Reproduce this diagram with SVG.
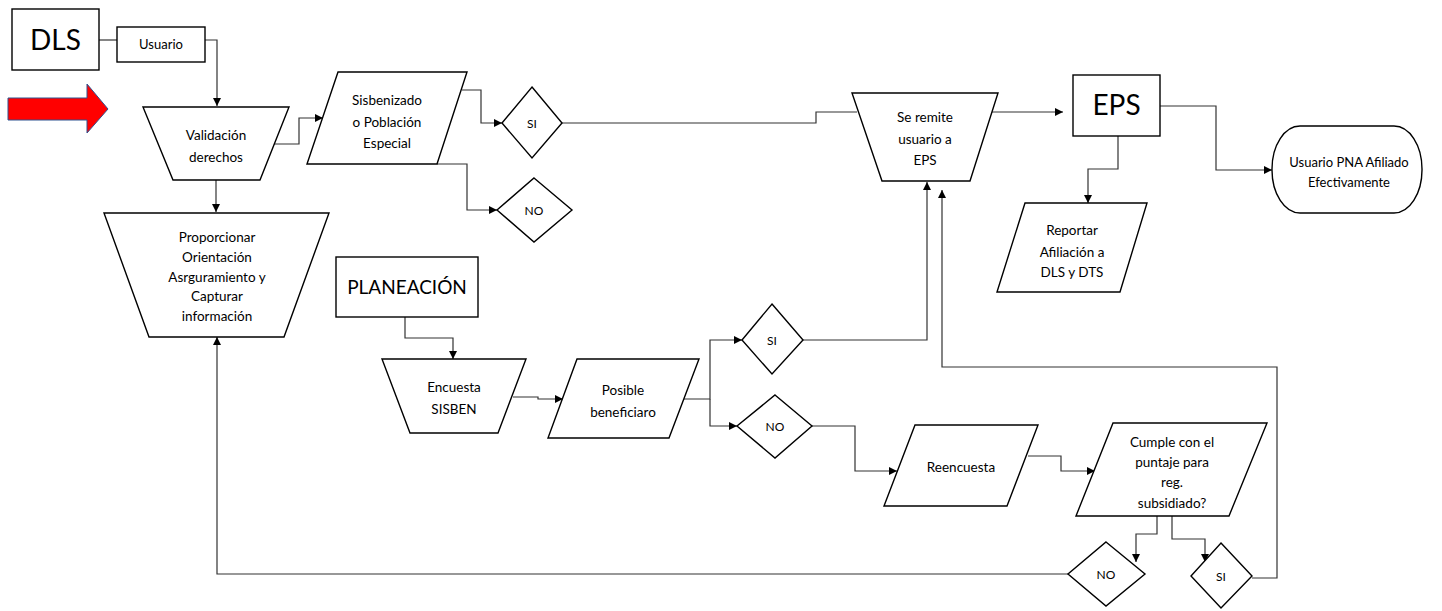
<svg xmlns="http://www.w3.org/2000/svg" width="1442" height="611" viewBox="0 0 1442 611">
<style>
.s{fill:#fff;stroke:#000;stroke-width:1.4}
.c{fill:none;stroke:#333;stroke-width:1.2}
.t{font-family:Lato,"Open Sans",sans-serif;font-size:13.5px;fill:#000;text-anchor:middle}
.b{font-family:Lato,"Open Sans",sans-serif;font-size:28px;fill:#000;text-anchor:middle}
</style>
<defs>
<marker id="a" viewBox="0 0 10 10" refX="10" refY="5" markerWidth="8" markerHeight="8" markerUnits="userSpaceOnUse" orient="auto"><path d="M0,0L10,5L0,10z" fill="#000"/></marker>
</defs>
<rect width="1442" height="611" fill="#fff"/>
<g id="connectors" class="c">
<path d="M99,40H117"/>
<path d="M205,40H217V106" marker-end="url(#a)"/>
<path d="M216,180V212" marker-end="url(#a)"/>
<path d="M273,144H299V118H323" marker-end="url(#a)"/>
<path d="M462,90H481V123H502" marker-end="url(#a)"/>
<path d="M562,123H816V112H857"/>
<path d="M437,164H467V210H497" marker-end="url(#a)"/>
<path d="M992,112H1063" marker-end="url(#a)"/>
<path d="M1160,106H1216V170H1272" marker-end="url(#a)"/>
<path d="M1118,136V169H1088V203" marker-end="url(#a)"/>
<path d="M405,317V338H453V359" marker-end="url(#a)"/>
<path d="M513,397H538V399H563" marker-end="url(#a)"/>
<path d="M684,399H710V340H742" marker-end="url(#a)"/>
<path d="M710,399V426H737" marker-end="url(#a)"/>
<path d="M803,340H927V182" marker-end="url(#a)"/>
<path d="M812,426H855V471H897" marker-end="url(#a)"/>
<path d="M1028,456H1061V471H1095" marker-end="url(#a)"/>
<path d="M1157,516V534H1136V562" marker-end="url(#a)"/>
<path d="M1172,516V539H1205V562" marker-end="url(#a)"/>
<path d="M1068,574H217V337" marker-end="url(#a)"/>
<path d="M1252,578H1277V367H942V190" marker-end="url(#a)"/>
</g>
<g id="red-arrow"><polygon points="8,98 87,98 87,84 108,109 87,133 87,120 8,120" fill="#f00" stroke="#2f528f" stroke-width="1"/></g>
<g id="dls"><rect class="s" x="12" y="9" width="87" height="61"/><text class="b" x="55.5" y="50">DLS</text></g>
<g id="usuario"><rect class="s" x="117" y="27" width="88" height="35"/><text class="t" x="161" y="49" style="font-size:13px">Usuario</text></g>
<g id="validacion"><polygon class="s" points="143,107 289,107 260,180 173,180"/><text class="t" x="216" y="140">Validación</text><text class="t" x="216" y="162">derechos</text></g>
<g id="sisbenizado"><polygon class="s" points="338,72 467,72 437,164 307,164"/><text class="t" x="387" y="105">Sisbenizado</text><text class="t" x="387" y="127">o Población</text><text class="t" x="387" y="148">Especial</text></g>
<g id="si1"><polygon class="s" points="532,87 562,123 532,158 502,123"/><text class="t" x="532" y="128" style="font-size:12px">SI</text></g>
<g id="no1"><polygon class="s" points="534,178 572,210 534,242 497,210"/><text class="t" x="534" y="215" style="font-size:12px">NO</text></g>
<g id="se-remite"><polygon class="s" points="852,93 998,93 970,181 882,181"/><text class="t" x="925" y="122">Se remite</text><text class="t" x="925" y="144">usuario a</text><text class="t" x="925" y="165">EPS</text></g>
<g id="eps"><rect class="s" x="1073" y="75" width="87" height="61"/><text class="b" x="1116.5" y="115">EPS</text></g>
<g id="usuario-pna"><rect class="s" x="1272" y="126" width="150" height="87" rx="28" ry="43"/><text class="t" x="1349" y="167" style="font-size:13px">Usuario PNA Afiliado</text><text class="t" x="1349" y="187" style="font-size:13px">Efectivamente</text></g>
<g id="reportar"><polygon class="s" points="1025,203 1147,203 1120,292 997,292"/><text class="t" x="1072" y="235">Reportar</text><text class="t" x="1072" y="257">Afiliación a</text><text class="t" x="1072" y="277">DLS y DTS</text></g>
<g id="proporcionar"><polygon class="s" points="104,213 329,213 284,337 149,337"/><text class="t" x="217" y="242">Proporcionar</text><text class="t" x="217" y="262">Orientación</text><text class="t" x="217" y="282">Asrguramiento y</text><text class="t" x="217" y="301">Capturar</text><text class="t" x="217" y="321">información</text></g>
<g id="planeacion"><rect class="s" x="336" y="257" width="142" height="60"/><text class="b" x="407" y="294" style="font-size:19px">PLANEACIÓN</text></g>
<g id="encuesta"><polygon class="s" points="382,359 526,359 498,433 410,433"/><text class="t" x="454" y="392">Encuesta</text><text class="t" x="454" y="414">SISBEN</text></g>
<g id="posible"><polygon class="s" points="577,359 699,359 669,438 548,438"/><text class="t" x="623" y="395">Posible</text><text class="t" x="623" y="417">beneficiaro</text></g>
<g id="si2"><polygon class="s" points="772,304 803,340 772,374 742,340"/><text class="t" x="772" y="345" style="font-size:12px">SI</text></g>
<g id="no2"><polygon class="s" points="775,395 812,426 775,458 737,426"/><text class="t" x="775" y="431" style="font-size:12px">NO</text></g>
<g id="reencuesta"><polygon class="s" points="915,425 1038,425 1007,506 884,506"/><text class="t" x="961" y="472">Reencuesta</text></g>
<g id="cumple"><polygon class="s" points="1113,423 1267,423 1229,516 1076,516"/><text class="t" x="1172" y="447">Cumple con el</text><text class="t" x="1172" y="467">puntaje para</text><text class="t" x="1172" y="487">reg.</text><text class="t" x="1172" y="508">subsidiado?</text></g>
<g id="no3"><polygon class="s" points="1106,542 1145,574 1106,606 1068,574"/><text class="t" x="1106" y="579" style="font-size:12px">NO</text></g>
<g id="si3"><polygon class="s" points="1221,543 1252,576 1221,608 1191,576"/><text class="t" x="1221" y="581" style="font-size:12px">SI</text></g>
</svg>
